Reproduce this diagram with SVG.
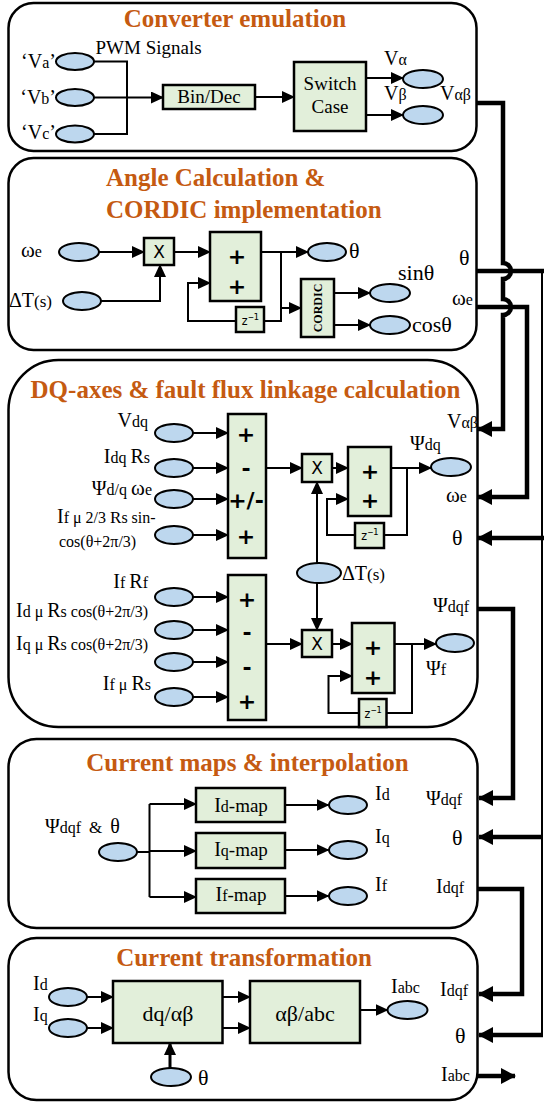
<svg xmlns="http://www.w3.org/2000/svg" width="545" height="1102" viewBox="0 0 545 1102">
<style>
.pn{fill:#fff;stroke:#000;stroke-width:2.5}
.bx{fill:#e2efda;stroke:#000;stroke-width:2.5}
.el{fill:#bdd7ee;stroke:#000;stroke-width:2}
.ln{fill:none;stroke:#000;stroke-width:2}
.la{fill:none;stroke:#000;stroke-width:2;marker-end:url(#a)}
.tk{fill:none;stroke:#000;stroke-width:4.5;marker-end:url(#b)}
.tn{fill:none;stroke:#000;stroke-width:4.5}
.tt{font-family:"Liberation Serif",serif;font-weight:bold;font-size:25px;fill:#c55a11}
.t{font-family:"Liberation Serif",serif;font-size:20px;fill:#000}
.s{font-size:16px}
.m{font-size:17px}
.w{font-size:21px}
.sg{font-family:"DejaVu Sans",sans-serif;font-weight:bold;font-size:22px;text-anchor:middle}
.x{font-family:"DejaVu Sans",sans-serif;font-size:17px;text-anchor:middle}
.z{font-family:"DejaVu Sans Mono",monospace;font-size:12px;text-anchor:middle}
.c{text-anchor:middle}
.e{text-anchor:end}
</style>
<defs>
<marker id="a" markerUnits="userSpaceOnUse" markerWidth="13" markerHeight="12" refX="12" refY="6" orient="auto"><path d="M0,0 L13,6 L0,12 z" fill="#000"/></marker>
<marker id="b" markerUnits="userSpaceOnUse" markerWidth="15" markerHeight="16" refX="14" refY="8" orient="auto"><path d="M0,0 L15,8 L0,16 z" fill="#000"/></marker>
</defs>

<g id="panels">
<rect id="p1" class="pn" x="8.5" y="3" width="468" height="148" rx="25"/>
<rect id="p2" class="pn" x="8.5" y="158" width="468" height="192" rx="25"/>
<rect id="p3" class="pn" x="8.5" y="360" width="469" height="367" rx="50"/>
<rect id="p4" class="pn" x="8.5" y="739" width="469" height="189" rx="28"/>
<rect id="p5" class="pn" x="8.5" y="938" width="469" height="162" rx="28"/>
</g>

<g id="titles">
<text class="tt c" x="235" y="27">Converter emulation</text>
<text class="tt" x="106" y="186">Angle Calculation &amp;</text>
<text class="tt" x="106" y="218">CORDIC implementation</text>
<text class="tt c" x="245.5" y="398">DQ-axes &amp; fault flux linkage calculation</text>
<text class="tt c" x="247.5" y="771">Current maps &amp; interpolation</text>
<text class="tt c" x="244" y="966">Current transformation</text>
</g>

<g id="connectors">
<path class="ln" d="M94,61.5 H127 V134 H94"/>
<path class="la" d="M94,97.5 H163"/>
<path class="la" d="M255,97 H294"/>
<path class="la" d="M366,78 H403"/>
<path class="la" d="M366,115 H403"/>
<path class="la" d="M99,252 H144"/>
<path class="la" d="M101,301 H160 V265"/>
<path class="la" d="M174,252 H210"/>
<path class="la" d="M261,252 H308"/>
<path class="ln" d="M281,252 V321 H264"/>
<path class="la" d="M236,321 H188 V283 H210"/>
<path class="la" d="M281,308 H301"/>
<path class="la" d="M334,293 H370"/>
<path class="la" d="M334,325 H370"/>
<path class="la" d="M193,433 H228"/>
<path class="la" d="M193,468 H228"/>
<path class="la" d="M193,499 H228"/>
<path class="la" d="M193,535 H228"/>
<path class="la" d="M266,468 H302"/>
<path class="la" d="M332,468 H348"/>
<path class="la" d="M391,468 H431"/>
<path class="ln" d="M407,468 V535 H384"/>
<path class="la" d="M355,535 H327 V499 H348"/>
<path class="la" d="M317,563 V482"/>
<path class="la" d="M317,583 V630"/>
<path class="la" d="M193,597 H228"/>
<path class="la" d="M193,630 H228"/>
<path class="la" d="M193,662 H228"/>
<path class="la" d="M193,697 H228"/>
<path class="la" d="M266,644 H302"/>
<path class="la" d="M332,644 H352"/>
<path class="la" d="M394.5,644 H436"/>
<path class="ln" d="M412,644 V713 H386.5"/>
<path class="la" d="M359,713 H328.5 V676 H352"/>
<path class="ln" d="M137,852 H149.5 M149.5,804 V897"/>
<path class="la" d="M149.5,804 H196"/>
<path class="la" d="M149.5,851 H196"/>
<path class="la" d="M149.5,897 H196"/>
<path class="la" d="M285,805 H328.5"/>
<path class="la" d="M285,850 H328.5"/>
<path class="la" d="M285,896 H328.5"/>
<path class="la" d="M87,997 H113"/>
<path class="la" d="M87,1028 H113"/>
<path class="la" d="M222.5,997 H250"/>
<path class="la" d="M222.5,1028 H250"/>
<path class="la" d="M360,1010 H387.5"/>
<path class="la" d="M170,1068 V1043" style="stroke-width:3"/>
<path class="tk" d="M476,103 H503 V263 a8,8 0 0 1 0,16 V299 a8,8 0 0 1 0,16 V429 H478"/>
<path class="tn" d="M476,271 H544"/>
<path class="ln" d="M542,271 V1035"/>
<path class="tk" d="M476,307 H527 V497 H478"/>
<path class="tk" d="M544,538 H478"/>
<path class="tk" d="M477,609 H513 V798 H479"/>
<path class="tk" d="M543,837 H479"/>
<path class="tk" d="M478,889 H522 V994 H479"/>
<path class="tk" d="M543,1035 H479"/>
<path class="tk" d="M478,1076 H515"/>
</g>

<g id="n-conv">
<ellipse class="el" cx="75" cy="61.5" rx="19" ry="8.5"/>
<ellipse class="el" cx="75" cy="97.5" rx="19" ry="8.5"/>
<ellipse class="el" cx="75" cy="134" rx="19" ry="8.5"/>
<text class="t e" x="56" y="68">‘V<tspan class="s">a</tspan>’</text>
<text class="t e" x="56" y="104">‘V<tspan class="s">b</tspan>’</text>
<text class="t e" x="56" y="139">‘V<tspan class="s">c</tspan>’</text>
<text class="t" x="95.5" y="54" style="font-size:19px">PWM Signals</text>
<rect class="bx" x="163" y="85" width="92" height="24"/>
<text class="t c" x="209" y="103" style="font-size:19px">Bin/Dec</text>
<rect class="bx" x="294" y="62" width="72" height="69"/>
<text class="t c" x="330" y="90" style="font-size:19px">Switch</text>
<text class="t c" x="330" y="113" style="font-size:19px">Case</text>
<ellipse class="el" cx="423" cy="79" rx="20" ry="9"/>
<ellipse class="el" cx="423" cy="115" rx="20" ry="9"/>
<text class="t" x="384" y="65">V<tspan class="s">α</tspan></text>
<text class="t" x="384" y="100">V<tspan class="s">β</tspan></text>
<text class="t" x="440" y="100">V<tspan class="s">αβ</tspan></text>
</g>

<g id="n-angle">
<text class="t" x="21" y="257"><tspan class="w">ω</tspan><tspan class="s">e</tspan></text>
<ellipse class="el" cx="79" cy="252" rx="20" ry="9"/>
<text class="t" x="9" y="307">ΔT<tspan class="m">(s)</tspan></text>
<ellipse class="el" cx="82" cy="301" rx="19" ry="9"/>
<rect class="bx" x="144" y="238" width="30" height="27"/>
<text class="x" x="159" y="258">X</text>
<rect class="bx" x="210" y="232" width="51" height="69"/>
<text class="sg" x="237" y="264">+</text>
<text class="sg" x="237" y="294">+</text>
<ellipse class="el" cx="327" cy="252" rx="19" ry="9"/>
<text class="t" x="349" y="258" style="font-size:22px">θ</text>
<rect class="bx" x="236" y="307" width="28" height="25"/>
<text class="z" x="250" y="325">z<tspan style="font-size:9px" dy="-5">−1</tspan></text>
<rect class="bx" x="301" y="279" width="33" height="58"/>
<text class="t c" transform="translate(321.5,308) rotate(-90)" style="font-size:12px;font-weight:bold">CORDIC</text>
<ellipse class="el" cx="390" cy="293" rx="20" ry="9"/>
<ellipse class="el" cx="390" cy="325" rx="20" ry="9"/>
<text class="t" x="398" y="280" style="font-size:22px">sinθ</text>
<text class="t" x="412" y="332" style="font-size:22px">cosθ</text>
<text class="t" x="459" y="265" style="font-size:22px">θ</text>
<text class="t" x="452" y="305"><tspan class="w">ω</tspan><tspan class="s">e</tspan></text>
</g>

<g id="n-dq">
<text class="t e" x="148" y="427">V<tspan class="s">dq</tspan></text>
<text class="t e" x="150" y="463">I<tspan class="s">dq </tspan>R<tspan class="s">s</tspan></text>
<text class="t e" x="152" y="495">Ψ<tspan class="s">d/q </tspan><tspan class="w">ω</tspan><tspan class="s">e</tspan></text>
<text class="t" x="57" y="523">I<tspan class="s">f μ 2/3 </tspan><tspan class="m">R</tspan><tspan class="s">s sin-</tspan></text>
<text class="t" x="59" y="547" style="font-size:16px">cos(θ+2π/3)</text>
<ellipse class="el" cx="174" cy="433" rx="19" ry="9"/>
<ellipse class="el" cx="174" cy="468" rx="19" ry="9"/>
<ellipse class="el" cx="174" cy="499" rx="19" ry="9"/>
<ellipse class="el" cx="174" cy="535" rx="19" ry="9"/>
<rect class="bx" x="228" y="414" width="38" height="144"/>
<text class="sg" x="246" y="442">+</text>
<text class="sg" x="246" y="476">-</text>
<text class="sg" x="246" y="508">+/-</text>
<text class="sg" x="246" y="544">+</text>
<rect class="bx" x="302" y="454" width="30" height="28"/>
<text class="x" x="317" y="474">X</text>
<rect class="bx" x="348" y="447" width="43" height="69"/>
<text class="sg" x="370" y="479">+</text>
<text class="sg" x="370" y="508">+</text>
<rect class="bx" x="355" y="523" width="29" height="25"/>
<text class="z" x="369.5" y="540">z<tspan style="font-size:9px" dy="-5">−1</tspan></text>
<ellipse class="el" cx="451" cy="467" rx="20" ry="9"/>
<text class="t" x="410" y="450">Ψ<tspan class="s">dq</tspan></text>
<ellipse class="el" cx="319" cy="573" rx="22" ry="10"/>
<text class="t" x="342" y="580">ΔT<tspan class="m">(s)</tspan></text>
<text class="t e" x="148" y="588">I<tspan class="s">f </tspan>R<tspan class="s">f</tspan></text>
<text class="t" x="16" y="617">I<tspan class="s">d μ </tspan>R<tspan class="s">s </tspan><tspan style="font-size:16px">cos(θ+2π/3)</tspan></text>
<text class="t" x="16" y="650">I<tspan class="s">q μ </tspan>R<tspan class="s">s </tspan><tspan style="font-size:16px">cos(θ+2π/3)</tspan></text>
<text class="t e" x="151" y="690">I<tspan class="s">f μ </tspan>R<tspan class="s">s</tspan></text>
<ellipse class="el" cx="174" cy="597" rx="19" ry="9"/>
<ellipse class="el" cx="174" cy="630" rx="19" ry="9"/>
<ellipse class="el" cx="174" cy="662" rx="19" ry="9"/>
<ellipse class="el" cx="174" cy="697" rx="19" ry="9"/>
<rect class="bx" x="228" y="575" width="38" height="145"/>
<text class="sg" x="247" y="607">+</text>
<text class="sg" x="247" y="640">-</text>
<text class="sg" x="247" y="675">-</text>
<text class="sg" x="247" y="709">+</text>
<rect class="bx" x="302" y="630" width="30" height="27"/>
<text class="x" x="317" y="650">X</text>
<rect class="bx" x="352" y="623" width="42.5" height="70"/>
<text class="sg" x="373" y="655">+</text>
<text class="sg" x="373" y="685">+</text>
<rect class="bx" x="359" y="699" width="27.5" height="28"/>
<text class="z" x="372.75" y="718">z<tspan style="font-size:9px" dy="-5">−1</tspan></text>
<ellipse class="el" cx="455" cy="643" rx="19" ry="9"/>
<text class="t" x="426" y="675">Ψ<tspan class="s">f</tspan></text>
<text class="t" x="447" y="428">V<tspan class="s">αβ</tspan></text>
<text class="t" x="446" y="502"><tspan class="w">ω</tspan><tspan class="s">e</tspan></text>
<text class="t" x="452" y="545" style="font-size:22px">θ</text>
<text class="t" x="433" y="612">Ψ<tspan class="s">dqf</tspan></text>
</g>

<g id="n-maps">
<text class="t" x="45" y="833">Ψ<tspan class="s">dqf&#160;&#160;</tspan><tspan class="m">&amp;</tspan><tspan class="s">&#160;&#160;</tspan>θ</text>
<ellipse class="el" cx="118" cy="852" rx="19" ry="9"/>
<rect class="bx" x="196" y="788" width="89" height="34"/>
<rect class="bx" x="196" y="833" width="89" height="35"/>
<rect class="bx" x="196" y="879" width="89" height="34"/>
<text class="t c" x="241" y="812">I<tspan class="s">d</tspan><tspan style="font-size:19px">-map</tspan></text>
<text class="t c" x="241" y="856">I<tspan class="s">q</tspan><tspan style="font-size:19px">-map</tspan></text>
<text class="t c" x="241" y="901">I<tspan class="s">f</tspan><tspan style="font-size:19px">-map</tspan></text>
<ellipse class="el" cx="348" cy="805" rx="19" ry="9"/>
<ellipse class="el" cx="348" cy="850" rx="19" ry="9"/>
<ellipse class="el" cx="348" cy="896" rx="19" ry="9"/>
<text class="t" x="375" y="800">I<tspan class="s">d</tspan></text>
<text class="t" x="375" y="843">I<tspan class="s">q</tspan></text>
<text class="t" x="375" y="891">I<tspan class="s">f</tspan></text>
<text class="t" x="426" y="805">Ψ<tspan class="s">dqf</tspan></text>
<text class="t" x="452" y="845" style="font-size:22px">θ</text>
<text class="t" x="436" y="893">I<tspan class="s">dqf</tspan></text>
</g>

<g id="n-trans">
<text class="t" x="33" y="990">I<tspan class="s">d</tspan></text>
<text class="t" x="33" y="1021">I<tspan class="s">q</tspan></text>
<ellipse class="el" cx="68" cy="997" rx="19" ry="9"/>
<ellipse class="el" cx="68" cy="1028" rx="19" ry="9"/>
<rect class="bx" x="113" y="981" width="109.5" height="62"/>
<text class="t c" x="168" y="1021" style="font-size:22px">dq/αβ</text>
<rect class="bx" x="250" y="981" width="110" height="62"/>
<text class="t c" x="305" y="1021" style="font-size:22px">αβ/abc</text>
<ellipse class="el" cx="407.5" cy="1010" rx="20" ry="9"/>
<text class="t" x="391" y="993">I<tspan class="s">abc</tspan></text>
<ellipse class="el" cx="171" cy="1077" rx="20" ry="9"/>
<text class="t" x="198" y="1085" style="font-size:22px">θ</text>
<text class="t" x="440" y="996">I<tspan class="s">dqf</tspan></text>
<text class="t" x="455" y="1043" style="font-size:22px">θ</text>
<text class="t" x="441" y="1081">I<tspan class="s">abc</tspan></text>
</g>
</svg>
